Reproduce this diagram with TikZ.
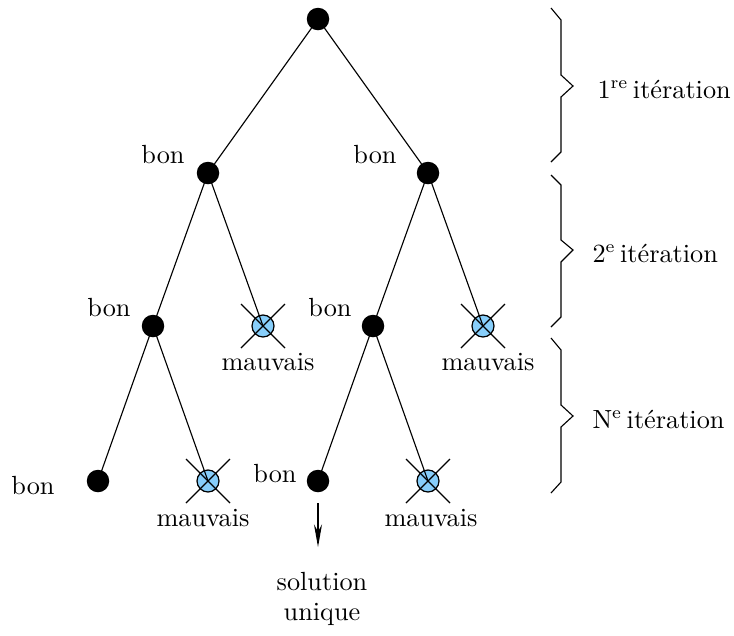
\documentclass[tikz,border=0pt]{standalone}
\usetikzlibrary{arrows.meta}
\definecolor{skyb}{RGB}{135,206,250}
\begin{document}
\begin{tikzpicture}[x=0.4pt,y=-0.4pt,line width=0.4pt,
  good/.style={circle,fill=black,minimum size=9pt,inner sep=0pt},
  bad/.style={circle,draw=black,fill=skyb,line width=0.5pt,minimum size=8.8pt,inner sep=0pt},
  lbl/.style={inner sep=0pt,font=\fontsize{10.5}{12}\selectfont},
  edge/.style={draw=black,line width=0.45pt},
  brace/.style={draw=black,line width=0.45pt}]
\useasboundingbox (0,0) rectangle (734,635);
% nodes
\node[good] (r) at (318,19) {};
\node[good] (a) at (208,173) {};
\node[good] (b) at (428,173) {};
\node[good] (c) at (153,326) {};
\node[bad]  (cx) at (263,326) {};
\node[good] (d) at (373,326) {};
\node[bad]  (dx) at (483,326) {};
\node[good] (e) at (98,481) {};
\node[bad]  (ex) at (208,481) {};
\node[good] (f) at (318,481) {};
\node[bad]  (fx) at (428,481) {};
% edges
\foreach \p/\q in {r/a,r/b,a/c,a/cx,b/d,b/dx,c/e,c/ex,d/f,d/fx}
  \path[edge] (\p.center) -- (\q.center);
% crosses
\foreach \n in {cx,dx,ex,fx}{
  \path[edge] ([shift={(-22,-22)}]\n.center) -- ([shift={(22,22)}]\n.center);
  \path[edge] ([shift={(-22,22)}]\n.center) -- ([shift={(22,-22)}]\n.center);
}
% labels
\node[lbl] (la) at (163,155) {bon};
\node[lbl] (lb) at (375,155) {bon};
\node[lbl] (lc) at (109,308) {bon};
\node[lbl] (ld) at (330,308) {bon};
\node[lbl] (le) at (33,486) {bon};
\node[lbl] (lf) at (275,474) {bon};
\node[lbl] (mcx) at (268,362) {mauvais};
\node[lbl] (mdx) at (488,362) {mauvais};
\node[lbl] (mex) at (203,518) {mauvais};
\node[lbl] (mfx) at (431,518) {mauvais};
% arrow
\coordinate (as) at (318,503);
\coordinate (ae) at (318,547);
\draw[-{Stealth[length=9pt,width=3.2pt,inset=2.8pt]},line width=0.45pt] (as) -- (ae);
\node[lbl,align=center,font=\fontsize{10.5}{12.2}\selectfont] (sol) at (322,599) {solution\\unique};
% braces
\path[brace] (551,8) -- (561,20) -- (561,75) -- (573,86) -- (561,97) -- (561,152) -- (551,162);
\path[brace] (551,175) -- (561,185) -- (561,240) -- (573,250) -- (561,262) -- (561,317) -- (551,327);
\path[brace] (551,338) -- (561,350) -- (561,405) -- (573,416) -- (561,427) -- (561,482) -- (551,493);
\node[lbl,anchor=west] (i1) at (597,89) {1$^{\mathrm{re}}$\,itération};
\node[lbl,anchor=west] (i2) at (592,253) {2$^{\mathrm{e}}$\,itération};
\node[lbl,anchor=west] (i3) at (592,419) {N$^{\mathrm{e}}$\,itération};
\end{tikzpicture}
\end{document}
